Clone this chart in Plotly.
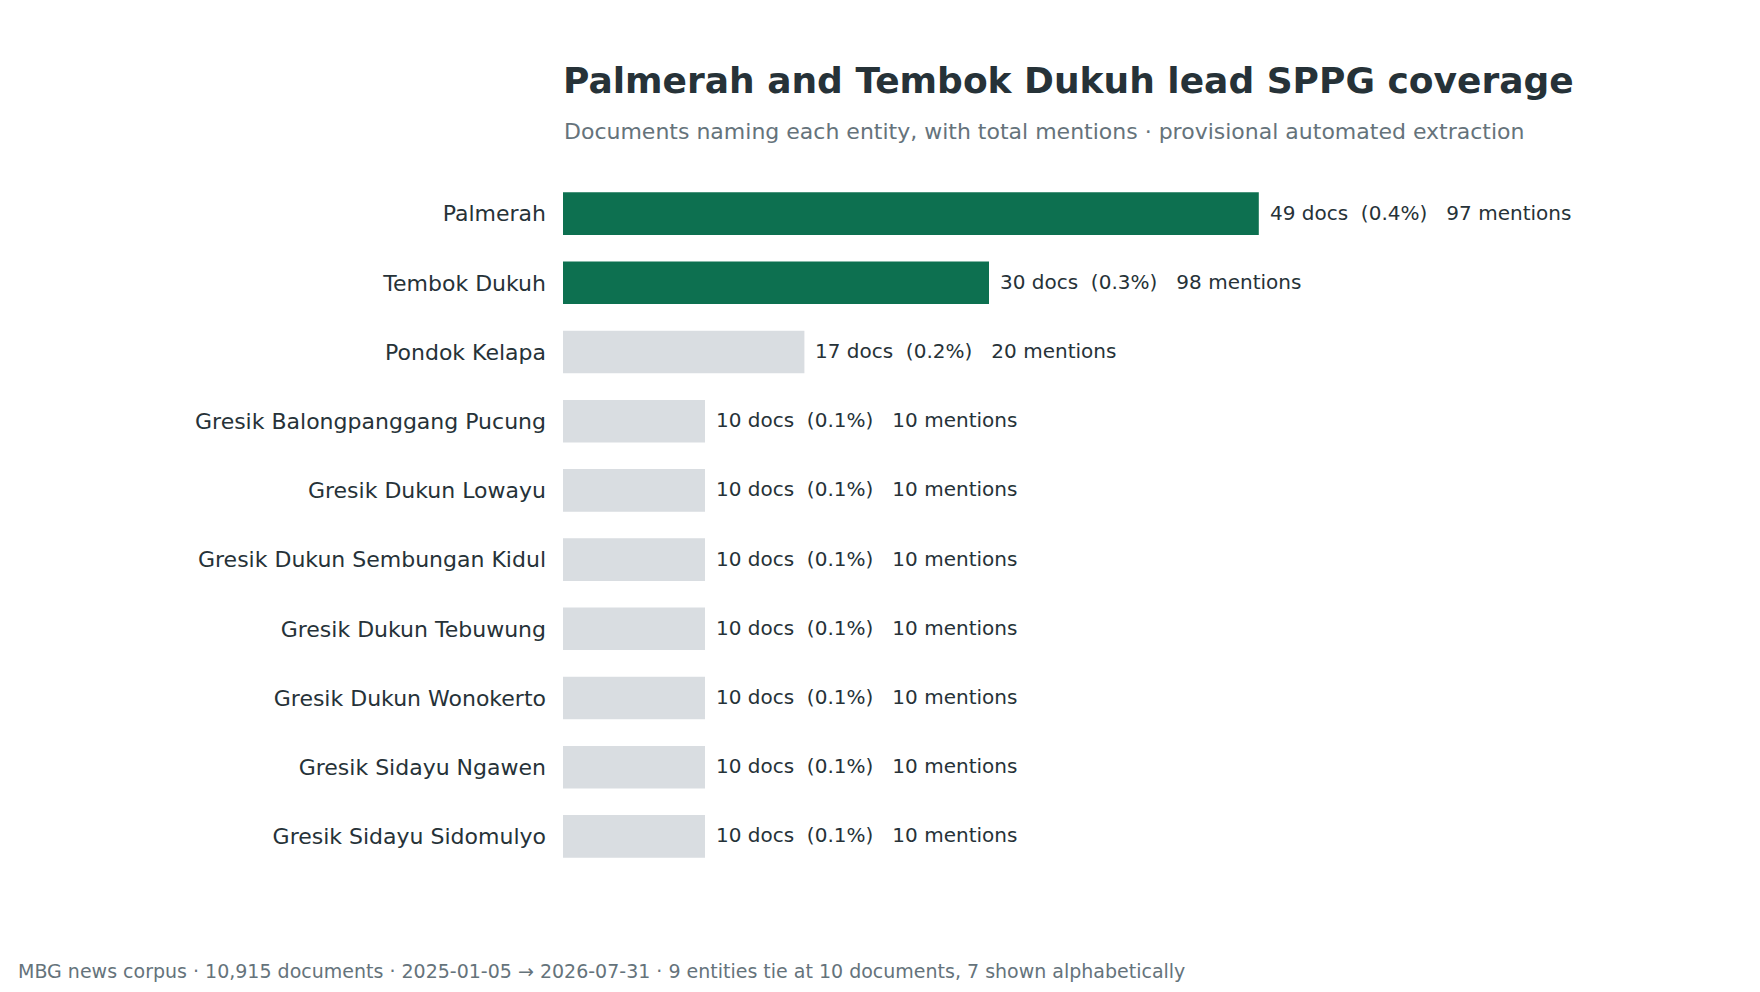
import plotly.graph_objects as go

entities = [
    "Palmerah",
    "Tembok Dukuh",
    "Pondok Kelapa",
    "Gresik Balongpanggang Pucung",
    "Gresik Dukun Lowayu",
    "Gresik Dukun Sembungan Kidul",
    "Gresik Dukun Tebuwung",
    "Gresik Dukun Wonokerto",
    "Gresik Sidayu Ngawen",
    "Gresik Sidayu Sidomulyo",
]
docs = [49, 30, 17, 10, 10, 10, 10, 10, 10, 10]
pct_labels = ["0.4%", "0.3%", "0.2%", "0.1%", "0.1%", "0.1%", "0.1%", "0.1%", "0.1%", "0.1%"]
mentions = [97, 98, 20, 10, 10, 10, 10, 10, 10, 10]
highlight = [True, True, False, False, False, False, False, False, False, False]

TITLE = "Palmerah and Tembok Dukuh lead SPPG coverage"
SUBTITLE = "Documents naming each entity, with total mentions · provisional automated extraction"
FOOTER = ("MBG news corpus · 10,915 documents · 2025-01-05 → 2026-07-31 · "
          "9 entities tie at 10 documents, 7 shown alphabetically")

GREEN = "#0d7050"
GREY = "#d9dde1"
DARK = "#263238"
MUTED = "#65737b"
FONT = "DejaVu Sans"

W, H = 1760, 992
L, R, T, B = 563, 100, 179, 121
plot_w = W - L - R
plot_h = H - T - B
XMAX = plot_w / 14.2

colors = [GREEN if h else GREY for h in highlight]

fig = go.Figure(
    go.Bar(
        x=docs,
        y=entities,
        orientation="h",
        marker=dict(color=colors, line=dict(width=0)),
        hoverinfo="skip",
    )
)

annotations = []
for e, d, p, m in zip(entities, docs, pct_labels, mentions):
    annotations.append(dict(
        x=d, y=e, xref="x", yref="y",
        text=f"{d} docs  ({p})   {m} mentions",
        showarrow=False, xanchor="left", yanchor="middle", xshift=9, yshift=1,
        font=dict(family=FONT, size=20, color=DARK),
    ))

annotations.append(dict(
    x=0, y=(H - B - 131) / plot_h, xref="paper", yref="paper",
    text=SUBTITLE, showarrow=False, xanchor="left", yanchor="middle", xshift=-1,
    font=dict(family=FONT, size=22, color=MUTED),
))
annotations.append(dict(
    x=(17 - L) / plot_w, y=(H - B - 970.5) / plot_h, xref="paper", yref="paper",
    text=FOOTER, showarrow=False, xanchor="left", yanchor="middle", xshift=-1,
    font=dict(family=FONT, size=19, color=MUTED),
))

fig.update_layout(
    width=W, height=H,
    margin=dict(l=L, r=R, t=T, b=B, autoexpand=False),
    paper_bgcolor="white", plot_bgcolor="white",
    font=dict(family=FONT, color=DARK),
    title=dict(
        text=f"<b>{TITLE}</b>",
        x=L / W, xanchor="left", xref="container",
        y=1 - 80 / H, yanchor="middle", yref="container",
        font=dict(family=FONT, size=36, color=DARK),
    ),
    bargap=0.384,
    showlegend=False,
    annotations=annotations,
    xaxis=dict(range=[0, XMAX], visible=False, showgrid=False, zeroline=False),
    yaxis=dict(
        autorange="reversed", showgrid=False, zeroline=False, showline=False,
        ticks="", ticklabelstandoff=16,
        tickfont=dict(family=FONT, size=22, color=DARK),
    ),
)

fig.write_html(
    "out.html",
    config={"displayModeBar": False, "staticPlot": True},
    post_script="document.body.style.margin='0';",
)
